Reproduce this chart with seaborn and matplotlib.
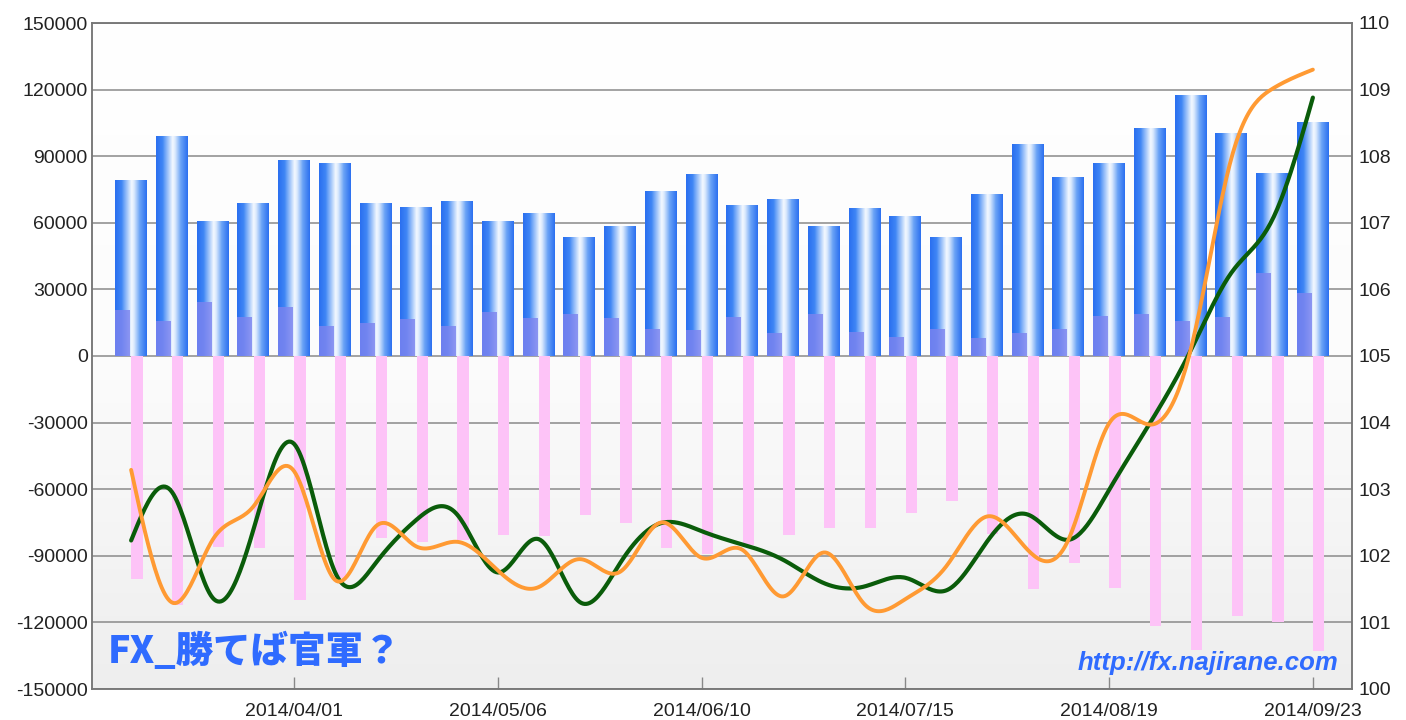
import matplotlib

matplotlib.use("Agg")
import matplotlib.pyplot as plt
import numpy as np
import pandas as pd
import seaborn as sns
from matplotlib.colors import LinearSegmentedColormap


# weekly data, first bar = 2014/03/04, last bar = 2014/09/23
WEEKS = pd.date_range("2014-03-04", periods=30, freq="7D")

LONG_TOTAL = [79200, 99200, 60900, 68700, 88500, 87000, 68700, 67200, 70000, 60900,
              64500, 53700, 58700, 74400, 82200, 67900, 70800, 58700, 66500, 63000,
              53700, 72800, 95400, 80700, 86900, 102500, 117500, 100500, 82600, 105200]
LONG_INNER = [20700, 15700, 24100, 17700, 22000, 13500, 14700, 16500, 13500, 19900,
              17200, 18700, 17200, 12000, 11700, 17700, 10200, 18900, 10900, 8700,
              12100, 7900, 10500, 12100, 18000, 18900, 15700, 17600, 37600, 28500]
SHORT_TOTAL = [-100500, -112000, -86000, -86500, -110000, -100000, -82000, -84000, -82800, -80500,
               -81300, -71500, -75300, -86500, -89100, -85000, -80500, -77500, -77500, -70800,
               -65500, -80000, -105000, -93300, -104500, -121500, -132300, -117300, -120000, -133000]
RATE_GREEN = [102.23, 102.96, 101.37, 102.39, 103.68, 101.76, 101.89, 102.54, 102.62, 101.75,
              102.25, 101.31, 101.89, 102.49, 102.37, 102.17, 101.94, 101.59, 101.54, 101.67,
              101.48, 102.21, 102.62, 102.24, 102.99, 103.99, 105.08, 106.25, 107.04, 108.88]
RATE_ORANGE = [103.29, 101.30, 102.24, 102.74, 103.27, 101.64, 102.44, 102.14, 102.21, 101.78,
               101.53, 101.95, 101.76, 102.50, 101.97, 102.09, 101.39, 102.05, 101.27, 101.35,
               101.84, 102.59, 102.09, 102.24, 103.99, 103.97, 105.09, 107.97, 109.01, 109.30]

LEFT_TICKS = list(range(-150000, 150001, 30000))
RIGHT_TICKS = list(range(100, 111))
LABEL_EVERY = 5

BAR_GRADIENT = LinearSegmentedColormap.from_list(
    "bar",
    [(0.0, "#2a6ff0"), (0.2, "#3f86f5"), (0.38, "#a4c7fa"), (0.52, "#f4f9ff"),
     (0.6, "#dceafd"), (0.78, "#6aa3f6"), (1.0, "#2c70f0")],
)
BG_GRADIENT = LinearSegmentedColormap.from_list("bg", ["#ffffff", "#fcfcfc", "#eeeeee"])


def natural_spline(xs, ys, steps=24):
    xs = np.asarray(xs, dtype=float)
    ys = np.asarray(ys, dtype=float)
    n = len(xs)
    h = np.diff(xs)
    A = np.zeros((n, n))
    rhs = np.zeros(n)
    A[0, 0] = A[-1, -1] = 1.0
    for i in range(1, n - 1):
        A[i, i - 1] = h[i - 1]
        A[i, i] = 2 * (h[i - 1] + h[i])
        A[i, i + 1] = h[i]
        rhs[i] = 3 * ((ys[i + 1] - ys[i]) / h[i] - (ys[i] - ys[i - 1]) / h[i - 1])
    c = np.linalg.solve(A, rhs)
    b = (ys[1:] - ys[:-1]) / h - h * (c[1:] + 2 * c[:-1]) / 3
    d = (c[1:] - c[:-1]) / (3 * h)
    out_x, out_y = [], []
    for i in range(n - 1):
        t = np.linspace(0, h[i], steps, endpoint=False)
        out_x.append(xs[i] + t)
        out_y.append(ys[i] + b[i] * t + c[i] * t**2 + d[i] * t**3)
    out_x.append([xs[-1]])
    out_y.append([ys[-1]])
    return np.concatenate(out_x), np.concatenate(out_y)


def main():
    sns.set_theme(style="white")
    plt.rcParams["font.family"] = ["Liberation Sans", "DejaVu Sans"]

    pos = np.arange(len(WEEKS), dtype=float)
    xlim = (-0.96, len(WEEKS) - 1 + 0.96)

    fig = plt.figure(figsize=(14.06, 7.2), dpi=100)
    ax = fig.add_axes([92 / 1406, 31 / 720, 1260 / 1406, 666 / 720])

    # plot background
    ax.imshow(
        np.linspace(0, 1, 256).reshape(-1, 1),
        cmap=BG_GRADIENT,
        extent=[xlim[0], xlim[1], LEFT_TICKS[0], LEFT_TICKS[-1]],
        aspect="auto",
        zorder=-1,
    )

    bar_kw = dict(native_scale=True, saturation=1, errorbar=None, linewidth=0,
                  edgecolor="none", ax=ax)
    sns.barplot(x=pos, y=LONG_TOTAL, width=0.785, color="#2f74f1", zorder=2, **bar_kw)
    blue_bars = list(ax.containers[0])
    for rect in blue_bars:
        x0, w, h = rect.get_x(), rect.get_width(), rect.get_height()
        im = ax.imshow(np.linspace(0, 1, 64).reshape(1, -1), cmap=BAR_GRADIENT,
                       extent=[x0, x0 + w, 0, h], aspect="auto", zorder=2.1,
                       interpolation="bilinear")
        im.set_clip_path(rect)

    sns.barplot(x=pos - 0.2085, y=LONG_INNER, width=0.368, color="#7c84ef", alpha=0.82,
                zorder=3, **bar_kw)
    sns.barplot(x=pos + 0.145, y=SHORT_TOTAL, width=0.28, color="#fdc3f7", zorder=2, **bar_kw)

    ax.set_xlim(*xlim)
    ax.set_ylim(LEFT_TICKS[0], LEFT_TICKS[-1])
    ax.set_yticks(LEFT_TICKS)
    ax.set_yticklabels([str(v) for v in LEFT_TICKS])
    ax.yaxis.grid(True, color="#8a8a8a", linewidth=1.1)
    ax.xaxis.grid(False)
    ax.set_axisbelow(True)

    tick_idx = np.arange(LABEL_EVERY - 1, len(WEEKS), LABEL_EVERY)
    ax.set_xticks(pos[tick_idx])
    ax.set_xticklabels([WEEKS[i].strftime("%Y/%m/%d") for i in tick_idx])
    ax.tick_params(axis="x", direction="in", length=9, width=1, color="#888888",
                   pad=10, labelsize=14, labelcolor="#222222", bottom=True)
    ax.tick_params(axis="y", length=0, pad=3, labelsize=14, labelcolor="#222222", left=True)
    ax.set_xlabel("")
    ax.set_ylabel("")
    for side in ["left", "right", "top", "bottom"]:
        ax.spines[side].set_color("#777777")
        ax.spines[side].set_linewidth(1.1)

    ax2 = ax.twinx()
    gx, gy = natural_spline(pos, RATE_GREEN)
    ox, oy = natural_spline(pos, RATE_ORANGE)
    sns.lineplot(x=gx, y=gy, sort=False, estimator=None, color="#0a5c0a", linewidth=3.0, ax=ax2)
    sns.lineplot(x=ox, y=oy, sort=False, estimator=None, color="#ff9a33", linewidth=2.8, ax=ax2)
    ax2.set_ylim(RIGHT_TICKS[0], RIGHT_TICKS[-1])
    ax2.set_yticks(RIGHT_TICKS)
    ax2.set_yticklabels([str(v) for v in RIGHT_TICKS])
    ax2.tick_params(axis="y", length=0, pad=5, labelsize=14, labelcolor="#222222")
    ax2.set_xlim(*xlim)
    ax2.set_ylabel("")
    ax2.grid(False)
    for side in ["left", "right", "top", "bottom"]:
        ax2.spines[side].set_color("#777777")
        ax2.spines[side].set_linewidth(1.1)

    ax2.text(0.0127, 0.056, "FX_勝てば官軍？", transform=ax2.transAxes, ha="left", va="center",
             fontsize=27, fontweight="heavy", color="#2f6bff",
             family=["Noto Sans CJK JP", "DejaVu Sans"], zorder=10)
    ax2.text(0.989, 0.029, "http://fx.najirane.com", transform=ax2.transAxes, ha="right",
             va="baseline", fontsize=18.5, fontweight="heavy", style="italic", color="#2f6bff",
             family=["Liberation Sans", "DejaVu Sans"], zorder=10)

    fig.savefig("out.png", dpi=100)
    plt.close(fig)


if __name__ == "__main__":
    main()
